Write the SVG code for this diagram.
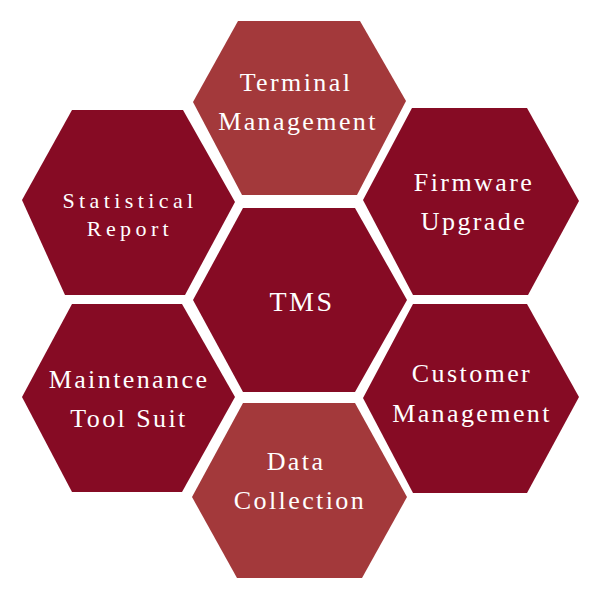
<svg xmlns="http://www.w3.org/2000/svg" width="600" height="600" viewBox="0 0 600 600">
<style>
.dark{fill:#860B24}
.light{fill:#A3393B}
text{font-family:'Liberation Serif','DejaVu Serif',serif;fill:#FFFFFF;text-anchor:middle;font-size:26px;letter-spacing:2.4px}
.small{font-size:22px;letter-spacing:4.4px}
.big{font-size:28px;letter-spacing:2.5px}
</style>
<rect width="600" height="600" fill="#FFFFFF"/>
<g id="connectors"/>
<g id="terminal-management">
<polygon class="light" points="238,21 360,21 406,101 357,195 242,195 193,102"/>
<text x="296" y="91" font-family="Liberation Serif, serif">Terminal</text>
<text x="298" y="130">Management</text>
</g>
<g id="tms">
<polygon class="dark" points="243,208 355,208 407,300 355,392 243,392 193,300"/>
<text class="big" x="302" y="311">TMS</text>
</g>
<g id="data-collection">
<polygon class="light" points="243,403 355,403 407,497 362,578 237,578 192,497"/>
<text x="296" y="470">Data</text>
<text x="300" y="509">Collection</text>
</g>
<g id="statistical-report">
<polygon class="dark" points="72,110 183,110 235,202 185,295 65,295 22,200"/>
<text class="small" x="130" y="208">Statistical</text>
<text class="small" x="130" y="236">Report</text>
</g>
<g id="firmware-upgrade">
<polygon class="dark" points="412,108 527,108 579,201 528,295 413,295 363,200"/>
<text x="474" y="191">Firmware</text>
<text x="474" y="230">Upgrade</text>
</g>
<g id="maintenance-tool-suit">
<polygon class="dark" points="72,304 182,304 235,397 182,492 72,492 22,397"/>
<text x="129" y="388">Maintenance</text>
<text x="129" y="427">Tool Suit</text>
</g>
<g id="customer-management">
<polygon class="dark" points="413,304 527,304 579,397 527,493 413,493 363,398"/>
<text x="472" y="382">Customer</text>
<text x="472" y="422">Management</text>
</g>
</svg>
